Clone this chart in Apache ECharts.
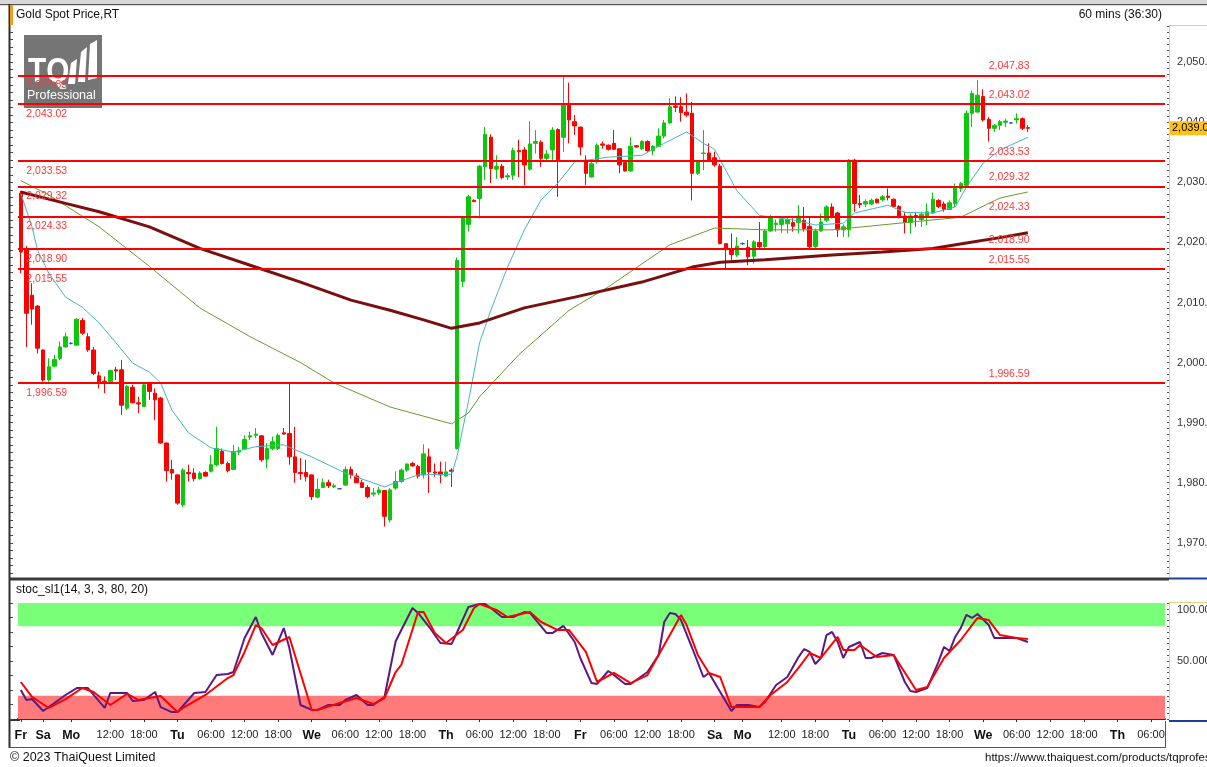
<!DOCTYPE html>
<html>
<head>
<meta charset="utf-8">
<title>Gold Spot Price,RT</title>
<script src="https://cdn.jsdelivr.net/npm/echarts@6/dist/echarts.min.js"></script>
<style>
html, body { margin: 0; padding: 0; background: #fff; }
#main { width: 1207px; height: 767px; }
</style>
</head>
<body>
<div id="main"></div>
<script>
// hourly slots on the time axis (data ends at slot 180, rest is empty future space)
var slotCount = 205;
var tickSlots = [0, 4, 9, 16, 22, 28, 34, 40, 46, 52, 58, 64, 70, 76, 82, 88, 94, 100, 106, 112, 118,
    124, 129, 136, 142, 148, 154, 160, 166, 172, 178, 184, 190, 196, 202];
var tickTexts = ['Fr', 'Sa', 'Mo', '12:00', '18:00', 'Tu', '06:00', '12:00', '18:00', 'We', '06:00', '12:00', '18:00',
    'Th', '06:00', '12:00', '18:00', 'Fr', '06:00', '12:00', '18:00', 'Sa', 'Mo', '12:00', '18:00',
    'Tu', '06:00', '12:00', '18:00', 'We', '06:00', '12:00', '18:00', 'Th', '06:00'];
var dayNames = ['Fr', 'Sa', 'Mo', 'Tu', 'We', 'Th'];

var opens = [2028.2, 2019.0, 2011.2, 2009.4, 2002.1, 1997.1, 1999.4, 2000.7, 2002.6, 2003.2,
    2002.9, 2007.0, 2004.3, 2002.1, 1997.8, 1996.9, 1996.8, 1998.8, 1998.8, 1992.4,
    1995.9, 1993.3, 1992.7, 1996.5, 1994.9, 1994.1, 1986.6, 1982.2, 1981.3, 1976.3,
    1981.7, 1981.6, 1980.7, 1981.7, 1981.9, 1983.0, 1985.2, 1983.2, 1982.2, 1985.1,
    1985.6, 1987.6, 1987.9, 1987.8, 1983.9, 1985.7, 1985.7, 1988.3, 1988.2, 1984.3,
    1981.7, 1981.7, 1981.3, 1977.6, 1979.2, 1980.0, 1979.3, 1979.0, 1979.6, 1982.2,
    1981.1, 1980.0, 1979.2, 1978.1, 1978.3, 1978.7, 1973.8, 1979.1, 1980.2, 1982.1,
    1983.2, 1982.7, 1981.3, 1984.3, 1981.8, 1981.8, 1981.1, 1982.1, 1985.7, 2013.5,
    2023.0, 2027.0, 2027.3, 2032.6, 2037.5, 2032.2, 2032.7, 2030.9, 2031.2, 2035.3,
    2035.4, 2032.2, 2036.5, 2036.7, 2034.0, 2035.4, 2038.8, 2037.5, 2043.0, 2040.1,
    2039.2, 2033.7, 2030.9, 2033.4, 2036.4, 2036.2, 2036.5, 2035.6, 2033.3, 2031.9,
    2036.1, 2035.6, 2036.8, 2035.3, 2036.0, 2037.7, 2039.9, 2042.7, 2042.6, 2041.7,
    2041.5, 2031.5, 2034.8, 2034.9, 2034.1, 2032.7, 2019.8, 2018.8, 2017.9, 2019.8,
    2019.2, 2017.7, 2020.0, 2019.3, 2021.9, 2023.0, 2023.0, 2023.1, 2023.3, 2023.3,
    2023.7, 2022.7, 2019.3, 2021.9, 2023.7, 2025.9, 2024.9, 2022.1, 2022.1, 2033.7,
    2026.5, 2026.4, 2026.4, 2027.2, 2027.1, 2027.7, 2027.2, 2026.0, 2024.4, 2023.3,
    2024.5, 2023.8, 2024.3, 2024.9, 2027.0, 2026.4, 2025.5, 2026.5, 2029.0, 2029.5,
    2041.5, 2041.7, 2044.3, 2040.5, 2039.0, 2039.5, 2040.0, 2039.9, 2040.4, 2040.6,
    2039.1];
var highs = [2028.6, 2019.4, 2013.2, 2009.6, 2002.2, 2000.7, 2001.3, 2003.5, 2005.0, 2003.4,
    2007.4, 2007.4, 2004.9, 2002.6, 1998.5, 1997.7, 1998.8, 1999.3, 2000.4, 1996.3,
    1996.3, 1994.3, 1996.5, 1996.8, 1995.7, 1994.3, 1986.7, 1983.8, 1981.4, 1982.4,
    1983.0, 1982.4, 1981.9, 1981.9, 1984.6, 1989.3, 1985.7, 1983.5, 1986.3, 1986.0,
    1987.9, 1988.5, 1989.1, 1987.9, 1986.6, 1987.7, 1988.2, 1989.1, 1996.5, 1989.3,
    1984.1, 1983.8, 1981.4, 1980.7, 1980.7, 1980.5, 1979.9, 1979.1, 1982.7, 1982.7,
    1981.6, 1980.5, 1979.6, 1979.1, 1979.3, 1978.8, 1979.1, 1981.9, 1982.4, 1983.2,
    1983.5, 1983.0, 1986.4, 1985.7, 1983.2, 1983.5, 1983.5, 1982.4, 2017.5, 2024.3,
    2027.9, 2027.2, 2032.9, 2039.2, 2038.0, 2034.5, 2033.1, 2031.5, 2035.8, 2037.1,
    2035.9, 2040.2, 2038.7, 2037.0, 2035.4, 2039.2, 2039.0, 2047.8, 2046.6, 2041.2,
    2039.3, 2034.5, 2033.7, 2036.5, 2036.8, 2036.3, 2038.7, 2035.7, 2033.4, 2037.5,
    2036.2, 2037.0, 2037.0, 2036.2, 2039.0, 2040.4, 2044.0, 2044.3, 2044.2, 2044.8,
    2043.4, 2033.4, 2038.7, 2036.5, 2035.1, 2033.1, 2019.9, 2021.5, 2020.9, 2020.0,
    2020.4, 2020.4, 2023.4, 2022.2, 2024.6, 2023.8, 2024.3, 2024.3, 2024.0, 2026.2,
    2025.9, 2024.4, 2022.3, 2024.8, 2026.2, 2026.5, 2025.1, 2023.0, 2033.9, 2033.9,
    2027.9, 2027.2, 2027.3, 2027.3, 2027.9, 2029.0, 2027.3, 2026.2, 2025.1, 2024.8,
    2025.1, 2025.1, 2026.5, 2028.3, 2027.2, 2026.8, 2027.0, 2029.8, 2030.1, 2042.0,
    2045.3, 2047.0, 2045.5, 2040.9, 2039.7, 2040.4, 2040.6, 2040.0, 2041.5, 2040.8,
    2039.5];
var lows = [2014.9, 2002.6, 2006.3, 2001.5, 1996.8, 1996.8, 1999.3, 2000.4, 2002.5, 2003.0,
    2002.8, 2004.6, 2001.8, 1997.9, 1995.7, 1994.9, 1996.5, 1997.1, 1991.3, 1992.1,
    1993.2, 1991.6, 1992.6, 1993.8, 1990.4, 1986.5, 1980.2, 1980.5, 1976.3, 1975.9,
    1980.2, 1980.2, 1980.5, 1981.0, 1981.7, 1982.7, 1983.0, 1981.7, 1982.1, 1984.6,
    1985.5, 1987.1, 1987.4, 1983.5, 1982.4, 1985.4, 1985.4, 1988.0, 1983.0, 1980.0,
    1980.5, 1980.2, 1977.1, 1977.4, 1979.1, 1979.1, 1979.1, 1978.9, 1979.5, 1980.7,
    1979.9, 1979.1, 1977.4, 1977.7, 1978.0, 1972.7, 1973.4, 1978.8, 1980.0, 1981.8,
    1982.7, 1980.7, 1980.7, 1978.3, 1981.0, 1979.9, 1981.0, 1979.3, 1985.5, 2012.6,
    2021.8, 2026.7, 2024.0, 2030.4, 2029.9, 2030.6, 2030.5, 2030.4, 2030.4, 2030.9,
    2029.5, 2032.0, 2034.8, 2032.6, 2033.7, 2033.7, 2027.6, 2035.1, 2036.5, 2037.9,
    2034.5, 2029.5, 2030.8, 2033.1, 2035.6, 2035.3, 2035.4, 2031.5, 2031.8, 2031.8,
    2035.8, 2035.4, 2035.1, 2034.5, 2035.9, 2037.3, 2039.8, 2041.7, 2040.1, 2040.9,
    2027.0, 2031.2, 2032.0, 2033.4, 2032.6, 2019.7, 2015.7, 2017.1, 2017.6, 2019.6,
    2016.2, 2016.5, 2019.0, 2019.0, 2021.8, 2021.8, 2021.6, 2021.5, 2021.8, 2021.5,
    2021.8, 2019.0, 2019.0, 2021.8, 2023.4, 2024.0, 2020.9, 2020.9, 2020.9, 2025.1,
    2025.7, 2025.9, 2026.2, 2026.5, 2026.8, 2027.0, 2025.9, 2024.0, 2021.5, 2021.5,
    2022.6, 2022.6, 2022.9, 2024.8, 2025.7, 2025.1, 2025.4, 2025.9, 2028.4, 2029.3,
    2039.2, 2041.6, 2040.1, 2036.8, 2038.4, 2038.7, 2039.2, 2039.8, 2039.8, 2038.7,
    2038.4];
var closes = [2018.4, 2008.2, 2008.9, 2002.4, 1997.1, 1999.3, 2000.5, 2002.6, 2004.3, 2003.2,
    2007.2, 2004.9, 2002.1, 1998.2, 1996.8, 1996.7, 1998.7, 1998.6, 1992.9, 1996.0,
    1993.3, 1993.1, 1996.3, 1995.2, 1993.8, 1986.6, 1982.0, 1981.6, 1976.6, 1982.1,
    1981.5, 1980.7, 1981.6, 1981.1, 1983.0, 1985.7, 1983.2, 1982.0, 1985.2, 1985.3,
    1987.2, 1987.8, 1988.1, 1983.8, 1985.7, 1986.8, 1987.9, 1988.1, 1984.3, 1981.7,
    1981.5, 1981.0, 1977.7, 1978.9, 1980.0, 1979.5, 1979.5, 1979.0, 1982.2, 1981.3,
    1980.0, 1979.2, 1977.7, 1978.3, 1978.8, 1974.4, 1978.8, 1980.2, 1982.1, 1983.1,
    1982.8, 1981.1, 1984.8, 1981.8, 1981.6, 1981.3, 1981.8, 1981.9, 2017.0, 2024.0,
    2027.6, 2026.8, 2032.7, 2038.0, 2032.3, 2032.7, 2030.8, 2031.1, 2035.3, 2035.1,
    2032.9, 2036.4, 2036.8, 2034.0, 2034.7, 2038.7, 2033.8, 2042.9, 2040.4, 2039.4,
    2035.9, 2031.5, 2033.1, 2036.2, 2036.2, 2035.5, 2035.5, 2032.9, 2031.9, 2036.0,
    2035.9, 2036.8, 2035.3, 2036.0, 2037.7, 2039.9, 2042.6, 2042.5, 2041.6, 2041.2,
    2031.5, 2033.4, 2034.9, 2033.6, 2032.9, 2019.8, 2018.8, 2018.0, 2019.4, 2019.8,
    2017.6, 2020.1, 2019.3, 2021.9, 2024.3, 2023.2, 2023.8, 2023.8, 2022.7, 2024.4,
    2022.3, 2019.3, 2021.9, 2023.4, 2025.9, 2024.3, 2022.1, 2022.6, 2033.7, 2026.5,
    2026.3, 2026.8, 2027.0, 2026.6, 2027.6, 2027.5, 2026.0, 2024.4, 2023.3, 2024.4,
    2024.3, 2024.7, 2025.1, 2027.2, 2026.0, 2025.5, 2026.6, 2029.3, 2029.8, 2041.5,
    2044.8, 2044.5, 2040.4, 2039.0, 2039.5, 2040.1, 2040.2, 2039.9, 2040.6, 2039.0,
    2039.01];

// moving averages as [slot, price]
var maFast = [[0, 2028.2], [2, 2022.6], [3, 2018.7], [5, 2014.9], [8, 2010.9], [11, 2009.2], [14, 2006.6],
    [17, 2003.3], [20, 1999.9], [23, 1998.4], [25, 1996.6], [27, 1992.1], [30, 1988.3], [34, 1985.8],
    [38, 1985.1], [42, 1986.0], [47, 1986.3], [50, 1985.1], [52, 1984.3], [58, 1981.6], [65, 1979.3],
    [67, 1980.0], [71, 1981.3], [77, 1981.4], [78, 1984.5], [80, 1993.5], [82, 2003.3], [84, 2008.7],
    [87, 2015.9], [90, 2022.1], [93, 2027.1], [96, 2029.9], [99, 2033.4], [105, 2034.2], [111, 2034.5],
    [115, 2036.5], [119, 2038.4], [122, 2036.5], [124, 2035.5], [126, 2032.0], [128, 2028.6],
    [132, 2024.5], [136, 2024.0], [139, 2023.6], [142, 2022.9], [147, 2023.2], [149, 2024.9],
    [155, 2026.2], [158, 2025.0], [163, 2024.9], [167, 2025.9], [169, 2029.2], [172, 2033.2],
    [175, 2035.4], [180, 2037.5]];
var maMid = [[0, 2030.3], [5, 2027.9], [14, 2022.6], [23, 2016.0], [32, 2009.1], [41, 2004.3], [50, 2000.0],
    [56, 1996.6], [66, 1992.6], [77, 1989.8], [80, 1991.6], [82, 1994.3], [89, 2001.3], [98, 2008.7],
    [105, 2012.6], [116, 2019.6], [124, 2022.4], [133, 2022.1], [145, 2022.1], [157, 2023.2],
    [168, 2024.2], [175, 2027.4], [180, 2028.4]];
var maSlow = [[0, 2028.4], [8, 2026.5], [14, 2025.1], [23, 2022.6], [32, 2019.0], [41, 2016.2], [50, 2013.4],
    [59, 2010.4], [66, 2008.7], [72, 2007.1], [77, 2005.7], [82, 2006.6], [90, 2009.1], [99, 2010.9],
    [111, 2013.4], [120, 2015.9], [125, 2016.7], [133, 2017.1], [145, 2017.9], [154, 2018.4],
    [163, 2019.0], [169, 2019.9], [175, 2020.8], [180, 2021.6]];

var levels = [2047.83, 2043.02, 2033.53, 2029.32, 2024.33, 2018.90, 2015.55, 1996.59];
var lastPrice = 2039.01;
var priceTicks = [1970, 1980, 1990, 2000, 2010, 2020, 2030, 2040, 2050];
var stochTicks = [50, 100];

// stochastic %K (purple) and %D (red) as [slot, value]
var stochK = [[0, 25.0], [1, 16.4], [2, 17.2], [4, 6.9], [8, 20.7], [10, 26.7], [12, 26.7], [15, 9.5], [16, 22.4],
    [19, 22.4], [20, 15.5], [22, 16.4], [24, 23.3], [25, 10.3], [27, 6.0], [28, 6.0], [31, 22.4], [33, 23.3],
    [35, 37.9], [37, 38.8], [38, 40.5], [40, 69.8], [42, 87.9], [43, 74.1], [45, 55.2], [47, 78.4], [48, 61.2],
    [50, 12.1], [52, 7.8], [53, 7.8], [55, 12.1], [57, 12.1], [58, 16.4], [60, 20.7], [62, 12.1], [63, 12.1],
    [65, 19.0], [67, 67.0], [70, 95.7], [71, 91.4], [73, 79.3], [75, 65.5], [77, 64.7], [78, 75.0], [80, 96.6],
    [82, 99.1], [83, 99.1], [84, 95.7], [86, 87.9], [88, 87.9], [90, 92.2], [91, 91.4], [94, 74.1], [95, 74.1],
    [97, 80.2], [99, 66.4], [100, 52.6], [102, 31.0], [103, 30.2], [105, 41.4], [106, 37.9], [108, 30.2],
    [109, 30.2], [112, 40.5], [114, 55.2], [115, 83.6], [116, 91.4], [117, 90.5], [118, 85.3], [120, 61.2],
    [122, 36.2], [123, 39.7], [125, 23.3], [127, 6.9], [128, 12.1], [130, 12.1], [132, 10.3], [133, 14.7],
    [135, 29.3], [137, 36.2], [139, 53.4], [140, 60.3], [141, 57.8], [142, 47.4], [143, 52.6], [144, 72.4],
    [145, 75.0], [146, 66.4], [147, 52.6], [148, 62.1], [150, 66.4], [151, 52.6], [152, 52.6], [154, 56.9],
    [156, 55.2], [158, 31.9], [159, 24.1], [160, 23.3], [162, 26.7], [164, 49.1], [165, 62.1], [166, 58.6],
    [167, 70.7], [168, 78.4], [169, 89.7], [170, 87.1], [171, 90.5], [173, 81.0], [174, 69.8], [176, 69.8],
    [178, 69.8], [180, 66.4]];
var stochD = [[0, 31.9], [2, 19.0], [5, 9.5], [8, 17.2], [11, 26.7], [13, 23.3], [16, 12.1], [19, 21.6],
    [21, 16.4], [25, 19.8], [28, 6.0], [29, 9.5], [33, 20.7], [37, 35.3], [38, 37.9], [40, 57.8], [42, 81.0],
    [43, 78.4], [45, 63.8], [48, 70.7], [52, 7.8], [53, 7.8], [57, 13.8], [60, 18.1], [63, 12.9], [65, 18.1],
    [67, 40.5], [68, 46.6], [71, 92.2], [72, 92.2], [74, 74.1], [76, 65.5], [79, 76.7], [81, 95.7], [82, 99.1],
    [85, 94.0], [87, 87.9], [91, 92.2], [93, 83.6], [96, 76.7], [98, 76.7], [101, 57.8], [103, 31.9],
    [106, 39.7], [109, 31.0], [112, 37.9], [115, 63.8], [118, 89.7], [119, 81.0], [121, 55.2], [123, 39.7],
    [125, 36.2], [127, 10.3], [132, 10.3], [134, 20.7], [137, 31.9], [139, 44.0], [141, 56.9], [143, 52.6],
    [146, 70.7], [147, 59.5], [149, 59.5], [150, 63.8], [153, 53.4], [156, 55.2], [160, 25.0], [162, 27.6],
    [165, 52.6], [168, 68.1], [171, 87.1], [173, 85.3], [175, 72.4], [178, 69.8], [180, 69.0]];

function fmt(v, d) {
    return v.toLocaleString('en-US', { minimumFractionDigits: d, maximumFractionDigits: d });
}

var slots = [];
for (var i = 0; i < slotCount; i++) slots.push(String(i));

var candles = opens.map(function (o, i) {
    return [o, closes[i], lows[i], highs[i]];
});

var priceMinor = [];
for (var p = 1965; p <= 2056; p++) priceMinor.push(p);
var priceLeft = [];
for (var q = 1965; q <= 2056; q += 1.25) priceLeft.push(q);
var stochMinor = [];
for (var s = 0; s <= 100; s += 5) stochMinor.push(s);
var stochLeft = [];
for (var t = 0; t <= 100; t += 12.5) stochLeft.push(t);

function isTick(index) {
    return tickSlots.indexOf(index) >= 0;
}

var levelLabels = [];
levels.forEach(function (v) {
    levelLabels.push({ coord: [0, v], label: { offset: [0, 10] } });
    levelLabels.push({ coord: [172, v], label: { offset: [0, -9] } });
});

var red = '#ff0000';
var green = '#0cc80c';
var axisYellow = '#e8d07c';
var font = 'Liberation Sans';

var chart = echarts.init(document.getElementById('main'));
var option = {
    animation: false,
    backgroundColor: '#ffffff',
    textStyle: { fontFamily: font },
    grid: [
        { left: 18, right: 42, top: 25, height: 552, outerBoundsMode: 'none', containLabel: false },
        { left: 18, right: 42, top: 603, height: 116, outerBoundsMode: 'none', containLabel: false }
    ],
    xAxis: [
        { type: 'category', gridIndex: 0, data: slots, boundaryGap: true, show: false },
        {
            type: 'category', gridIndex: 1, data: slots, boundaryGap: true,
            axisLine: { show: true, onZero: false, lineStyle: { color: '#333', width: 2 } },
            axisTick: { show: true, alignWithLabel: true, length: 3, interval: isTick, lineStyle: { color: '#333' } },
            axisLabel: {
                interval: isTick,
                margin: 10,
                formatter: function (value, index) {
                    var k = tickSlots.indexOf(Number(value));
                    if (k < 0) return '';
                    var txt = tickTexts[k];
                    return dayNames.indexOf(txt) >= 0 ? '{d|' + txt + '}' : '{t|' + txt + '}';
                },
                rich: {
                    d: { fontFamily: font, fontWeight: 'bold', fontSize: 12.5, color: '#111' },
                    t: { fontFamily: font, fontSize: 11, color: '#222' }
                }
            },
            splitLine: { show: false }
        }
    ],
    yAxis: [
        {
            type: 'value', gridIndex: 0, position: 'right', offset: 4,
            min: 1964.3, max: 2056.2,
            axisLine: { show: true, lineStyle: { color: axisYellow } },
            axisTick: { show: true, inside: true, length: 2, customValues: priceMinor, lineStyle: { color: '#555' } },
            axisLabel: {
                customValues: priceTicks, margin: 8, color: '#333', fontSize: 11,
                formatter: function (v) { return fmt(v, 2); }
            },
            splitLine: { show: false }
        },
        {
            type: 'value', gridIndex: 0, position: 'left', offset: 8,
            min: 1964.3, max: 2056.2,
            axisLine: { show: false },
            axisTick: { show: true, inside: true, length: 3, customValues: priceLeft, lineStyle: { color: '#444' } },
            axisLabel: { show: false },
            splitLine: { show: false }
        },
        {
            type: 'value', gridIndex: 1, position: 'right', offset: 4,
            min: 0, max: 100,
            axisLine: { show: true, lineStyle: { color: axisYellow } },
            axisTick: { show: true, inside: true, length: 2, customValues: stochMinor, lineStyle: { color: '#555' } },
            axisLabel: {
                customValues: stochTicks, margin: 8,
                formatter: function (v) { return v === 100 ? '{top|' + fmt(v, 3) + '}' : '{mid|' + fmt(v, 3) + '}'; },
                rich: {
                    top: { fontFamily: font, fontSize: 11, color: '#333', padding: [14, 0, 0, 0] },
                    mid: { fontFamily: font, fontSize: 11, color: '#333' }
                }
            },
            splitLine: { show: false }
        },
        {
            type: 'value', gridIndex: 1, position: 'left', offset: 8,
            min: 0, max: 100,
            axisLine: { show: false },
            axisTick: { show: true, inside: true, length: 3, customValues: stochLeft, lineStyle: { color: '#444' } },
            axisLabel: { show: false },
            splitLine: { show: false }
        }
    ],
    series: [
        {
            name: 'Gold', type: 'candlestick', xAxisIndex: 0, yAxisIndex: 0,
            data: candles, barWidth: 4,
            itemStyle: {
                color: green, color0: red, borderColor: green, borderColor0: red,
                borderColorDoji: '#2848e0', borderWidth: 1
            }
        },
        {
            name: 'fast', type: 'line', xAxisIndex: 0, yAxisIndex: 0, data: maFast,
            symbol: 'none', lineStyle: { color: '#46b4c4', width: 1 }, z: 3
        },
        {
            name: 'mid', type: 'line', xAxisIndex: 0, yAxisIndex: 0, data: maMid,
            symbol: 'none', lineStyle: { color: '#6b9a2c', width: 1 }, z: 3
        },
        {
            name: 'slow', type: 'line', xAxisIndex: 0, yAxisIndex: 0, data: maSlow,
            symbol: 'none', lineStyle: { color: '#7a0f0f', width: 3 }, z: 3
        },
        {
            name: 'levels', type: 'line', xAxisIndex: 0, yAxisIndex: 0, data: [], z: 4,
            markLine: {
                silent: true, symbol: 'none',
                lineStyle: { color: red, width: 2, type: 'solid' },
                label: { show: false },
                data: levels.map(function (v) { return { yAxis: v }; })
            },
            markPoint: {
                silent: true, symbol: 'rect', symbolSize: 1,
                itemStyle: { color: 'rgba(0,0,0,0)' },
                label: {
                    show: true, position: 'right', distance: 5,
                    color: '#ff3b3b', fontSize: 10.5, fontFamily: font,
                    formatter: function (p) { return fmt(p.data.coord[1], 2); }
                },
                data: levelLabels
            }
        },
        {
            // current price tag on the right axis
            name: 'last', type: 'line', xAxisIndex: 0, yAxisIndex: 0, data: [], z: 10, clip: false,
            markLine: {
                silent: true, symbol: 'none',
                lineStyle: { color: 'rgba(0,0,0,0)', width: 0 },
                data: [{
                    yAxis: lastPrice,
                    label: {
                        show: true, position: 'end', distance: 5,
                        formatter: fmt(lastPrice, 2),
                        backgroundColor: '#ffc21a', color: '#000', fontSize: 11,
                        fontFamily: font, padding: [2, 6, 1, 2]
                    }
                }]
            }
        },
        {
            name: '%K', type: 'line', xAxisIndex: 1, yAxisIndex: 2, data: stochK,
            symbol: 'none', lineStyle: { color: '#5a1a82', width: 2 }, z: 3,
            markArea: {
                silent: true,
                data: [
                    [{ yAxis: 80, itemStyle: { color: '#7aff78' } }, { yAxis: 100 }],
                    [{ yAxis: 0, itemStyle: { color: '#ff7a7a' } }, { yAxis: 20 }]
                ]
            }
        },
        {
            name: '%D', type: 'line', xAxisIndex: 1, yAxisIndex: 2, data: stochD,
            symbol: 'none', lineStyle: { color: red, width: 2 }, z: 4
        }
    ],
    graphic: [
        { type: 'rect', shape: { x: 0, y: 0, width: 1207, height: 3 }, style: { fill: '#d8d8d8' }, silent: true },
        { type: 'line', shape: { x1: 0, y1: 4.5, x2: 1207, y2: 4.5 }, style: { stroke: '#5a5a5a', lineWidth: 1.5 }, silent: true },
        { type: 'line', shape: { x1: 9.5, y1: 4, x2: 9.5, y2: 748 }, style: { stroke: '#2e2e2e', lineWidth: 2 }, silent: true },
        { type: 'rect', shape: { x: 10, y: 5, width: 3, height: 20 }, style: { fill: '#f0a020' }, silent: true },
        { type: 'line', shape: { x1: 1169, y1: 25.5, x2: 1207, y2: 25.5 }, style: { stroke: axisYellow, lineWidth: 1 }, silent: true },
        { type: 'line', shape: { x1: 9, y1: 579, x2: 1169, y2: 579 }, style: { stroke: '#3a3a3a', lineWidth: 3 }, silent: true },
        { type: 'line', shape: { x1: 1169, y1: 578.5, x2: 1207, y2: 578.5 }, style: { stroke: '#1d3f9a', lineWidth: 2 }, silent: true },
        { type: 'line', shape: { x1: 1169, y1: 602.5, x2: 1207, y2: 602.5 }, style: { stroke: axisYellow, lineWidth: 1 }, silent: true },
        { type: 'line', shape: { x1: 1169, y1: 721, x2: 1207, y2: 721 }, style: { stroke: '#1d3f9a', lineWidth: 2 }, silent: true },
        { type: 'line', shape: { x1: 9, y1: 720, x2: 20, y2: 720 }, style: { stroke: '#333', lineWidth: 2 }, silent: true },
        { type: 'line', shape: { x1: 1165.5, y1: 721, x2: 1165.5, y2: 748 }, style: { stroke: '#555', lineWidth: 1 }, silent: true },
        { type: 'line', shape: { x1: 9, y1: 747.5, x2: 1166, y2: 747.5 }, style: { stroke: '#555', lineWidth: 1 }, silent: true },
        {
            type: 'text', left: 16, top: 9, silent: true,
            style: { text: 'Gold Spot Price,RT', fontFamily: font, fontSize: 12, fill: '#111' }
        },
        {
            type: 'text', right: 45, top: 9, silent: true,
            style: { text: '60 mins (36:30)', fontFamily: font, fontSize: 12, fill: '#111' }
        },
        {
            type: 'text', left: 16, top: 584, silent: true,
            style: { text: 'stoc_sl1(14, 3, 3, 80, 20)', fontFamily: font, fontSize: 12, fill: '#111' }
        },
        {
            type: 'text', left: 10, top: 751, silent: true,
            style: { text: '\u00a9 2023 ThaiQuest Limited', fontFamily: font, fontSize: 12.5, fill: '#111' }
        },
        {
            type: 'text', left: 985, top: 752, silent: true,
            style: { text: 'https://www.thaiquest.com/products/tqprofessional', fontFamily: font, fontSize: 11.5, fill: '#111' }
        },
        // TQ Professional logo
        {
            type: 'group', silent: true, z: 100,
            children: [
                { type: 'rect', shape: { x: 24, y: 35, width: 78, height: 73 }, style: { fill: 'rgba(78,78,78,0.78)' } },
                {
                    type: 'text', x: 28, y: 55, scaleX: 0.85,
                    style: { text: 'TQ', fontFamily: font, fontWeight: 'bold', fontSize: 35, fill: '#fff' }
                },
                { type: 'polygon', shape: { points: [[68, 84], [71, 63], [77, 59], [75, 84]] }, style: { fill: '#fff' } },
                { type: 'polygon', shape: { points: [[78, 82], [81, 52], [87, 47], [85, 82]] }, style: { fill: '#fff' } },
                { type: 'polygon', shape: { points: [[88, 80], [90, 44], [97, 40], [97, 78]] }, style: { fill: '#fff' } },
                {
                    type: 'text', x: 27, y: 89,
                    style: { text: 'Professional', fontFamily: font, fontSize: 12.5, fill: '#fff' }
                }
            ]
        }
    ]
};
chart.setOption(option);
window.addEventListener('resize', function () { chart.resize(); });
</script>
</body>
</html>
